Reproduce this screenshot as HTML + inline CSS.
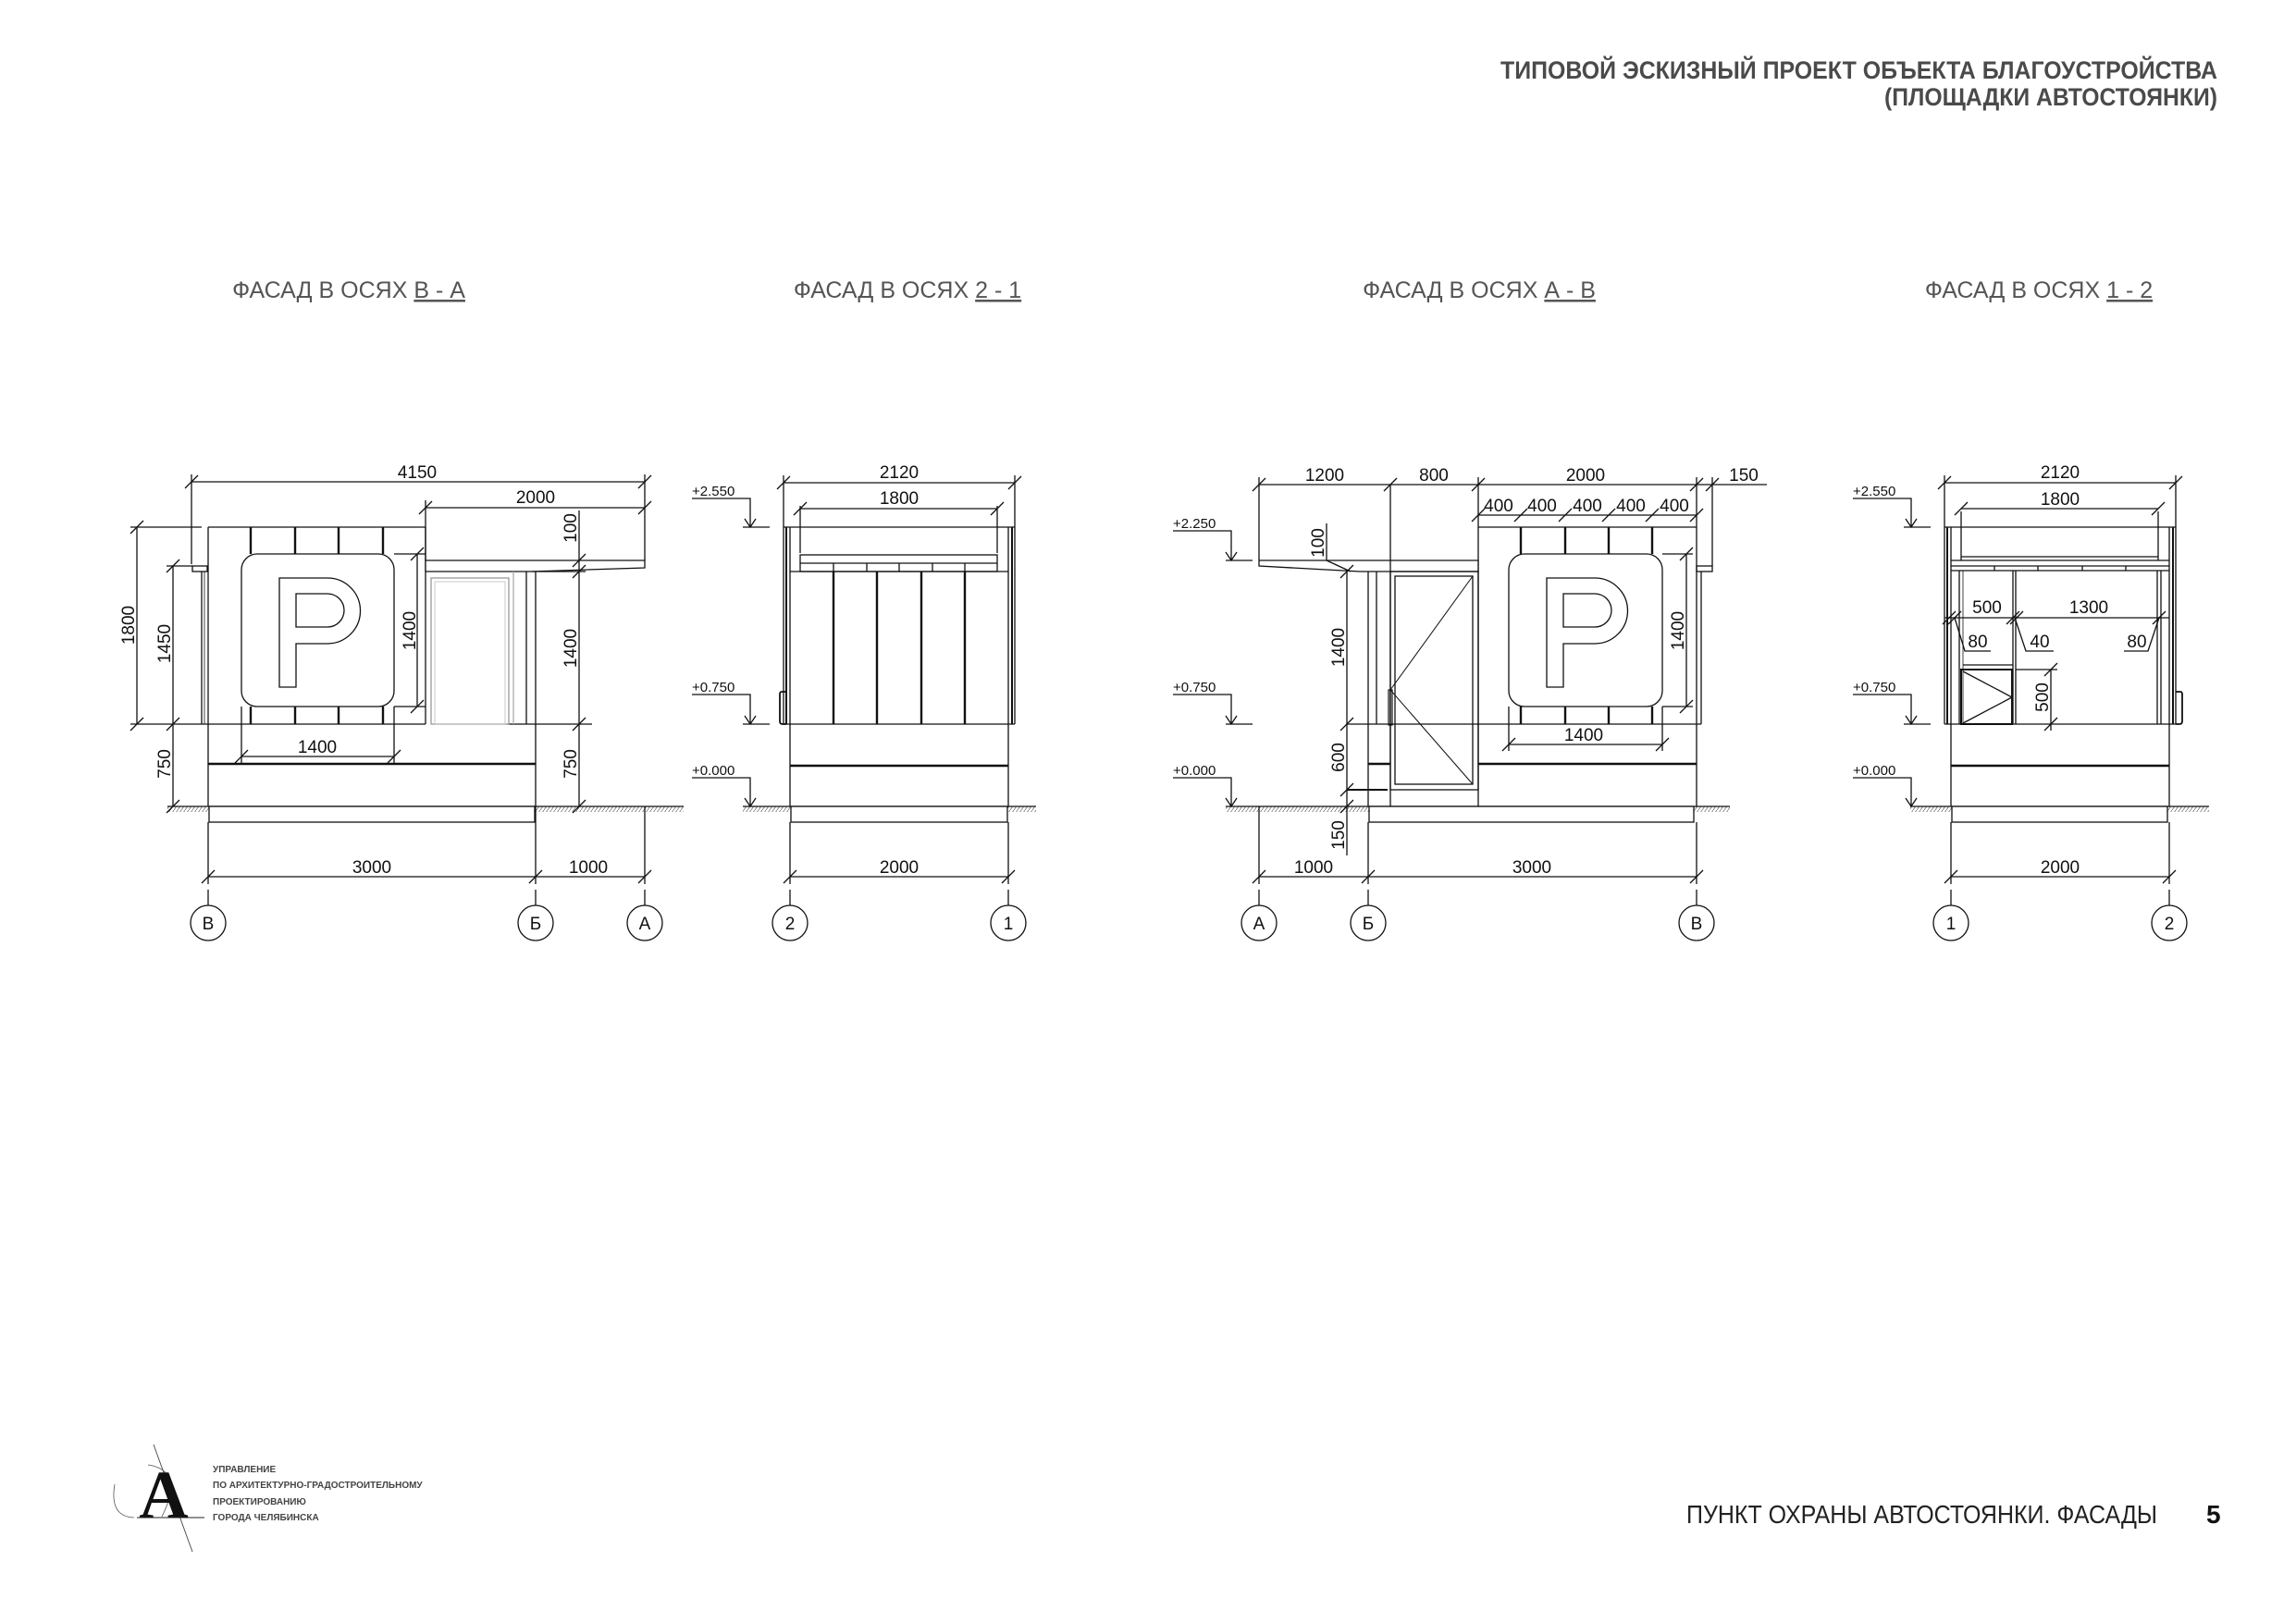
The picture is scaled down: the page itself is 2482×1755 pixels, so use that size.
<!DOCTYPE html>
<html><head><meta charset="utf-8"><style>
html,body{margin:0;padding:0;background:#fff;}
svg{display:block;}
text{font-family:"Liberation Sans",sans-serif;}
</style></head><body>
<svg width="2482" height="1755" viewBox="0 0 2482 1755" xmlns="http://www.w3.org/2000/svg">
<defs>
<pattern id="h" width="4" height="6" patternUnits="userSpaceOnUse"><path d="M0,6 L4,0" stroke="#777" stroke-width="0.9"/></pattern>
</defs>
<rect width="2482" height="1755" fill="#fff"/>

<!-- Header -->
<g fill="#4a4a4a" font-weight="bold" font-size="27" text-anchor="end">
<text x="2397" y="85" textLength="775" lengthAdjust="spacingAndGlyphs">ТИПОВОЙ ЭСКИЗНЫЙ ПРОЕКТ ОБЪЕКТА БЛАГОУСТРОЙСТВА</text>
<text x="2397" y="114" textLength="360" lengthAdjust="spacingAndGlyphs">(ПЛОЩАДКИ АВТОСТОЯНКИ)</text>
</g>

<!-- Facade titles -->
<g fill="#555" font-size="25" text-anchor="middle">
<text x="377" y="322">ФАСАД В ОСЯХ <tspan text-decoration="underline">В - А</tspan></text>
<text x="981" y="322">ФАСАД В ОСЯХ <tspan text-decoration="underline">2 - 1</tspan></text>
<text x="1599" y="322">ФАСАД В ОСЯХ <tspan text-decoration="underline">А - В</tspan></text>
<text x="2204" y="322">ФАСАД В ОСЯХ <tspan text-decoration="underline">1 - 2</tspan></text>
</g>

<g stroke="#111" stroke-width="1.3" fill="none">
<!-- ============ FACADE 1 ============ -->
<rect x="181" y="872" width="558" height="6" fill="url(#h)" stroke="none"/>
<line x1="181" y1="872" x2="739" y2="872"/>
<rect x="226" y="872" width="352" height="17" fill="#fff"/>
<line x1="225" y1="570" x2="460" y2="570"/>
<line x1="225" y1="570" x2="225" y2="872"/>
<line x1="460" y1="570" x2="460" y2="783"/>
<line x1="579" y1="618" x2="579" y2="872"/>
<line x1="218" y1="783" x2="460" y2="783"/>
<line x1="548" y1="783" x2="640" y2="783"/>
<line x1="225" y1="826" x2="579" y2="826" stroke-width="2.4"/>
<line x1="218" y1="618" x2="218" y2="783"/>
<line x1="221" y1="618" x2="221" y2="783" stroke-width="0.8"/>
<rect x="208" y="612" width="16" height="6"/>
<polygon points="460,606 697,606 697,614 575,618 460,618" fill="#fff"/>
<rect x="466" y="625" width="84" height="158" stroke="#999"/>
<rect x="470" y="629" width="76" height="154" stroke="#bbb" stroke-width="0.8"/>
<line x1="555" y1="618" x2="555" y2="783" stroke="#aaa"/>
<line x1="569" y1="618" x2="569" y2="783"/>
<g stroke-width="2.4">
<line x1="271" y1="570" x2="271" y2="599"/><line x1="319" y1="570" x2="319" y2="599"/><line x1="366" y1="570" x2="366" y2="599"/><line x1="414" y1="570" x2="414" y2="599"/>
<line x1="271" y1="764" x2="271" y2="783"/><line x1="319" y1="764" x2="319" y2="783"/><line x1="366" y1="764" x2="366" y2="783"/><line x1="414" y1="764" x2="414" y2="783"/>
</g>
<line x1="426" y1="599" x2="460" y2="599"/><line x1="426" y1="764" x2="460" y2="764"/>
<rect x="261" y="599" width="165" height="165" rx="17" fill="#fff"/>
<path d="M302,625 H354 A35.5,35.5 0 0 1 354,696 H320 V743 H302 Z M320,642 H354 A18,18 0 0 1 354,678 H320 Z" fill-rule="evenodd"/>
<line x1="207" y1="521" x2="697" y2="521"/>
<line x1="207" y1="513" x2="207" y2="610"/>
<line x1="697" y1="513" x2="697" y2="606"/>
<line x1="460" y1="549" x2="697" y2="549"/>
<line x1="460" y1="541" x2="460" y2="606"/>
<line x1="148" y1="570" x2="148" y2="783"/>
<line x1="141" y1="570" x2="218" y2="570"/>
<line x1="141" y1="783" x2="218" y2="783"/>
<line x1="187" y1="612" x2="187" y2="872"/>
<line x1="180" y1="612" x2="208" y2="612"/>
<line x1="451" y1="599" x2="451" y2="764"/>
<line x1="261" y1="764" x2="261" y2="826"/><line x1="426" y1="764" x2="426" y2="826"/>
<line x1="261" y1="818" x2="426" y2="818"/>
<line x1="626" y1="552" x2="626" y2="872"/>
<line x1="575" y1="618" x2="633" y2="618"/>
<line x1="225" y1="889" x2="225" y2="956"/>
<line x1="579" y1="872" x2="579" y2="956"/>
<line x1="697" y1="872" x2="697" y2="956"/>
<line x1="225" y1="948" x2="697" y2="948"/>
<line x1="225" y1="962" x2="225" y2="979"/><line x1="579" y1="962" x2="579" y2="979"/><line x1="697" y1="962" x2="697" y2="979"/>
<circle cx="225" cy="998" r="19"/><circle cx="579" cy="998" r="19"/><circle cx="697" cy="998" r="19"/>
<path d="M200,528 l14,-14 M690,528 l14,-14 M453,556 l14,-14 M690,556 l14,-14 M141,577 l14,-14 M141,790 l14,-14 M180,619 l14,-14 M180,790 l14,-14 M180,879 l14,-14 M444,606 l14,-14 M444,771 l14,-14 M254,825 l14,-14 M419,825 l14,-14 M619,613 l14,-14 M619,625 l14,-14 M619,790 l14,-14 M619,879 l14,-14 M218,955 l14,-14 M572,955 l14,-14 M690,955 l14,-14"/>

<!-- ============ FACADE 2 ============ -->
<rect x="803" y="872" width="317" height="6" fill="url(#h)" stroke="none"/>
<line x1="803" y1="872" x2="1120" y2="872"/>
<rect x="855" y="872" width="234" height="17" fill="#fff"/>
<line x1="847" y1="570" x2="1097" y2="570"/>
<line x1="847" y1="570" x2="847" y2="783"/><line x1="850" y1="570" x2="850" y2="783" stroke-width="2"/>
<line x1="1097" y1="570" x2="1097" y2="783"/><line x1="1094" y1="570" x2="1094" y2="783" stroke-width="2"/>
<line x1="854" y1="570" x2="854" y2="872"/><line x1="1090" y1="570" x2="1090" y2="872"/>
<rect x="865" y="600" width="213" height="18"/>
<line x1="865" y1="609" x2="1078" y2="609"/>
<path d="M901,609 V618 M937,609 V618 M972,609 V618 M1008,609 V618 M1043,609 V618"/>
<line x1="854" y1="618" x2="1090" y2="618"/>
<g stroke-width="2.4"><line x1="901" y1="618" x2="901" y2="783"/><line x1="948" y1="618" x2="948" y2="783"/><line x1="996" y1="618" x2="996" y2="783"/><line x1="1043" y1="618" x2="1043" y2="783"/></g>
<line x1="847" y1="783" x2="1097" y2="783"/>
<line x1="854" y1="828" x2="1090" y2="828" stroke-width="2.4"/>
<path d="M850,748 H845 Q843,748 843,751 V780 Q843,783 846,783 H850" stroke-width="1.8"/>
<line x1="865" y1="547" x2="865" y2="598"/><line x1="1078" y1="547" x2="1078" y2="598"/>
<line x1="847" y1="522" x2="1097" y2="522"/><line x1="847" y1="514" x2="847" y2="570"/><line x1="1097" y1="514" x2="1097" y2="570"/>
<line x1="865" y1="550" x2="1078" y2="550"/>
<line x1="854" y1="889" x2="854" y2="956"/><line x1="1090" y1="889" x2="1090" y2="956"/>
<line x1="854" y1="948" x2="1090" y2="948"/>
<line x1="854" y1="962" x2="854" y2="979"/><line x1="1090" y1="962" x2="1090" y2="979"/>
<circle cx="854" cy="998" r="19"/><circle cx="1090" cy="998" r="19"/>
<path d="M840,529 l14,-14 M1090,529 l14,-14 M858,557 l14,-14 M1071,557 l14,-14 M847,955 l14,-14 M1083,955 l14,-14"/>
<path d="M748,539 H811 V570 M803,570 H832 M805,561 L811,570 L817,561"/>
<path d="M748,751 H811 V783 M803,783 H832 M805,774 L811,783 L817,774"/>
<path d="M748,841 H811 V872 M805,863 L811,872 L817,863"/>

<!-- ============ FACADE 3 ============ -->
<rect x="1325" y="872" width="545" height="6" fill="url(#h)" stroke="none"/>
<line x1="1325" y1="872" x2="1870" y2="872"/>
<rect x="1480" y="872" width="351" height="17" fill="#fff"/>
<line x1="1598" y1="570" x2="1834" y2="570"/>
<line x1="1598" y1="570" x2="1598" y2="872"/>
<line x1="1834" y1="570" x2="1834" y2="872"/>
<line x1="1839" y1="618" x2="1839" y2="783"/>
<rect x="1834" y="612" width="17" height="6"/>
<polygon points="1361,606 1598,606 1598,618 1470,618 1361,612" fill="#fff"/>
<line x1="1479" y1="618" x2="1479" y2="872"/>
<line x1="1488" y1="618" x2="1488" y2="783"/>
<line x1="1503" y1="524" x2="1503" y2="872"/>
<rect x="1503" y="618" width="95" height="236"/>
<rect x="1508" y="623" width="84" height="225"/>
<path d="M1592,623 L1503,746 L1592,848" stroke-width="1"/>
<rect x="1501" y="746" width="4" height="38" stroke-width="1.2"/>
<line x1="1456" y1="783" x2="1839" y2="783"/>
<path d="M1479,826 H1503 M1598,826 H1834" stroke-width="2.4"/>
<line x1="1456" y1="854" x2="1500" y2="854" stroke-width="2"/>
<g stroke-width="2.4">
<line x1="1644" y1="570" x2="1644" y2="599"/><line x1="1692" y1="570" x2="1692" y2="599"/><line x1="1739" y1="570" x2="1739" y2="599"/><line x1="1786" y1="570" x2="1786" y2="599"/>
<line x1="1644" y1="764" x2="1644" y2="783"/><line x1="1692" y1="764" x2="1692" y2="783"/><line x1="1739" y1="764" x2="1739" y2="783"/><line x1="1786" y1="764" x2="1786" y2="783"/>
</g>
<rect x="1631" y="599" width="166" height="165" rx="17" fill="#fff"/>
<path d="M1672,625 H1724 A35.5,35.5 0 0 1 1724,696 H1690 V743 H1672 Z M1690,642 H1724 A18,18 0 0 1 1724,678 H1690 Z" fill-rule="evenodd"/>
<line x1="1361" y1="524" x2="1910" y2="524"/>
<line x1="1361" y1="516" x2="1361" y2="606"/>
<line x1="1598" y1="516" x2="1598" y2="570"/>
<line x1="1834" y1="516" x2="1834" y2="570"/>
<line x1="1851" y1="516" x2="1851" y2="612"/>
<line x1="1598" y1="557" x2="1834" y2="557"/>
<line x1="1797" y1="599" x2="1830" y2="599"/><line x1="1797" y1="764" x2="1830" y2="764"/>
<line x1="1823" y1="599" x2="1823" y2="764"/>
<line x1="1631" y1="764" x2="1631" y2="812"/><line x1="1797" y1="764" x2="1797" y2="812"/>
<line x1="1631" y1="805" x2="1797" y2="805"/>
<line x1="1456" y1="618" x2="1456" y2="925"/>
<line x1="1434" y1="566" x2="1434" y2="606"/>
<line x1="1434" y1="606" x2="1460" y2="618"/>
<line x1="1361" y1="872" x2="1361" y2="956"/>
<line x1="1479" y1="889" x2="1479" y2="956"/>
<line x1="1834" y1="889" x2="1834" y2="956"/>
<line x1="1361" y1="948" x2="1834" y2="948"/>
<line x1="1361" y1="962" x2="1361" y2="979"/><line x1="1479" y1="962" x2="1479" y2="979"/><line x1="1834" y1="962" x2="1834" y2="979"/>
<circle cx="1361" cy="998" r="19"/><circle cx="1479" cy="998" r="19"/><circle cx="1834" cy="998" r="19"/>
<path d="M1354,531 l14,-14 M1496,531 l14,-14 M1591,531 l14,-14 M1827,531 l14,-14 M1844,531 l14,-14 M1591,564 l14,-14 M1637,564 l14,-14 M1685,564 l14,-14 M1732,564 l14,-14 M1779,564 l14,-14 M1827,564 l14,-14 M1816,606 l14,-14 M1816,771 l14,-14 M1624,812 l14,-14 M1790,812 l14,-14 M1449,625 l14,-14 M1449,790 l14,-14 M1449,861 l14,-14 M1449,879 l14,-14 M1354,955 l14,-14 M1472,955 l14,-14 M1827,955 l14,-14"/>
<path d="M1268,574 H1331 V606 M1325,606 H1354 M1325,597 L1331,606 L1337,597"/>
<path d="M1268,751 H1331 V783 M1325,783 H1354 M1325,774 L1331,783 L1337,774"/>
<path d="M1268,841 H1331 V872 M1325,863 L1331,872 L1337,863"/>

<!-- ============ FACADE 4 ============ -->
<rect x="2065" y="872" width="323" height="6" fill="url(#h)" stroke="none"/>
<line x1="2065" y1="872" x2="2388" y2="872"/>
<rect x="2110" y="872" width="233" height="17" fill="#fff"/>
<line x1="2102" y1="570" x2="2352" y2="570"/>
<line x1="2102" y1="570" x2="2102" y2="783"/><line x1="2105" y1="570" x2="2105" y2="783" stroke-width="2"/>
<line x1="2352" y1="570" x2="2352" y2="783"/><line x1="2349" y1="570" x2="2349" y2="783" stroke-width="2"/>
<line x1="2109" y1="570" x2="2109" y2="872"/><line x1="2345" y1="570" x2="2345" y2="872"/>
<line x1="2120" y1="553" x2="2120" y2="606"/><line x1="2333" y1="553" x2="2333" y2="606"/>
<line x1="2120" y1="602" x2="2333" y2="602"/>
<line x1="2109" y1="606" x2="2345" y2="606"/>
<line x1="2109" y1="612" x2="2345" y2="612"/>
<path d="M2156,612 V617 M2203,612 V617 M2251,612 V617 M2298,612 V617"/>
<line x1="2109" y1="617" x2="2345" y2="617"/>
<line x1="2118" y1="617" x2="2118" y2="783"/>
<line x1="2122" y1="617" x2="2122" y2="783" stroke-width="0.8"/>
<line x1="2176" y1="617" x2="2176" y2="783"/><line x1="2179" y1="617" x2="2179" y2="783"/>
<line x1="2332" y1="617" x2="2332" y2="783"/><line x1="2336" y1="617" x2="2336" y2="783"/>
<line x1="2122" y1="719" x2="2176" y2="719"/>
<rect x="2120" y="724" width="55" height="59" stroke-width="2"/>
<path d="M2122,726 L2175,754 L2122,782"/>
<line x1="2179" y1="724" x2="2224" y2="724"/>
<line x1="2217" y1="724" x2="2217" y2="790"/>
<line x1="2102" y1="783" x2="2352" y2="783"/>
<line x1="2109" y1="828" x2="2345" y2="828" stroke-width="2.4"/>
<path d="M2352,748 H2357 Q2359,748 2359,751 V780 Q2359,783 2356,783 H2352" stroke-width="1.8"/>
<line x1="2102" y1="522" x2="2352" y2="522"/><line x1="2102" y1="514" x2="2102" y2="570"/><line x1="2352" y1="514" x2="2352" y2="570"/>
<line x1="2120" y1="550" x2="2333" y2="550"/>
<line x1="2102" y1="668" x2="2345" y2="668"/>
<path d="M2113,668 L2124,704 H2152 M2178,668 L2190,704 H2220 M2334,668 L2322,704 H2296"/>
<line x1="2109" y1="889" x2="2109" y2="956"/><line x1="2345" y1="889" x2="2345" y2="956"/>
<line x1="2109" y1="948" x2="2345" y2="948"/>
<line x1="2109" y1="962" x2="2109" y2="979"/><line x1="2345" y1="962" x2="2345" y2="979"/>
<circle cx="2109" cy="998" r="19"/><circle cx="2345" cy="998" r="19"/>
<path d="M2095,529 l14,-14 M2345,529 l14,-14 M2113,557 l14,-14 M2326,557 l14,-14 M2100,675 l14,-14 M2106,675 l14,-14 M2169,675 l14,-14 M2173,675 l14,-14 M2327,675 l14,-14 M2210,731 l14,-14 M2210,790 l14,-14 M2102,955 l14,-14 M2338,955 l14,-14"/>
<path d="M2003,539 H2066 V570 M2058,570 H2087 M2060,561 L2066,570 L2072,561"/>
<path d="M2003,751 H2066 V783 M2058,783 H2087 M2060,774 L2066,783 L2072,774"/>
<path d="M2003,841 H2066 V872 M2060,863 L2066,872 L2072,863"/>
</g>

<!-- Dimension texts -->
<g fill="#111" font-size="19" text-anchor="middle">
<text x="451" y="517">4150</text>
<text x="579" y="544">2000</text>
<text x="343" y="814">1400</text>
<text x="402" y="944">3000</text>
<text x="636" y="944">1000</text>
<text transform="translate(145,676) rotate(-90)">1800</text>
<text transform="translate(184,696) rotate(-90)">1450</text>
<text transform="translate(184,826) rotate(-90)">750</text>
<text transform="translate(449,682) rotate(-90)">1400</text>
<text transform="translate(623,571) rotate(-90)">100</text>
<text transform="translate(623,701) rotate(-90)">1400</text>
<text transform="translate(623,826) rotate(-90)">750</text>

<text x="972" y="517">2120</text>
<text x="972" y="545">1800</text>
<text x="972" y="944">2000</text>

<text x="1432" y="520">1200</text>
<text x="1550" y="520">800</text>
<text x="1714" y="520">2000</text>
<text x="1885" y="520">150</text>
<text x="1620" y="553">400</text>
<text x="1667" y="553">400</text>
<text x="1716" y="553">400</text>
<text x="1763" y="553">400</text>
<text x="1810" y="553">400</text>
<text x="1712" y="801">1400</text>
<text x="1420" y="944">1000</text>
<text x="1656" y="944">3000</text>
<text transform="translate(1431,587) rotate(-90)">100</text>
<text transform="translate(1453,700) rotate(-90)">1400</text>
<text transform="translate(1453,819) rotate(-90)">600</text>
<text transform="translate(1453,903) rotate(-90)">150</text>
<text transform="translate(1820,682) rotate(-90)">1400</text>

<text x="2227" y="517">2120</text>
<text x="2227" y="546">1800</text>
<text x="2148" y="663">500</text>
<text x="2258" y="663">1300</text>
<text x="2138" y="700">80</text>
<text x="2205" y="700">40</text>
<text x="2310" y="700">80</text>
<text transform="translate(2214,754) rotate(-90)">500</text>
<text x="2227" y="944">2000</text>

<text x="225" y="1005">В</text><text x="579" y="1005">Б</text><text x="697" y="1005">А</text>
<text x="854" y="1005">2</text><text x="1090" y="1005">1</text>
<text x="1361" y="1005">А</text><text x="1479" y="1005">Б</text><text x="1834" y="1005">В</text>
<text x="2109" y="1005">1</text><text x="2345" y="1005">2</text>
</g>
<g fill="#111" font-size="15">
<text x="748" y="536">+2.550</text><text x="748" y="748">+0.750</text><text x="748" y="838">+0.000</text>
<text x="1268" y="571">+2.250</text><text x="1268" y="748">+0.750</text><text x="1268" y="838">+0.000</text>
<text x="2003" y="536">+2.550</text><text x="2003" y="748">+0.750</text><text x="2003" y="838">+0.000</text>
</g>

<!-- Footer -->
<text x="1823" y="1647" font-size="28" fill="#222" textLength="509" lengthAdjust="spacingAndGlyphs">ПУНКТ ОХРАНЫ АВТОСТОЯНКИ. ФАСАДЫ</text>
<text x="2385" y="1647" font-size="28" font-weight="bold" fill="#111">5</text>

<!-- Logo -->
<g>
<path d="M124,1605 Q118,1640 145,1641" stroke="#555" stroke-width="0.8" fill="none"/>
<path d="M160,1584 Q200,1590 175,1640" stroke="#555" stroke-width="0.8" fill="none"/>
<line x1="166" y1="1562" x2="208" y2="1678" stroke="#444" stroke-width="0.9"/>
<text x="177" y="1641" style="font-family:'Liberation Serif',serif;font-size:74px;font-weight:bold" text-anchor="middle" fill="#111">A</text>
<line x1="148" y1="1641" x2="221" y2="1641" stroke="#222" stroke-width="1"/>
<g fill="#444" font-size="10" font-weight="bold">
<text x="230" y="1592">УПРАВЛЕНИЕ</text>
<text x="230" y="1609">ПО АРХИТЕКТУРНО-ГРАДОСТРОИТЕЛЬНОМУ</text>
<text x="230" y="1627">ПРОЕКТИРОВАНИЮ</text>
<text x="230" y="1644">ГОРОДА ЧЕЛЯБИНСКА</text>
</g>
</g>
</svg>
</body></html>
